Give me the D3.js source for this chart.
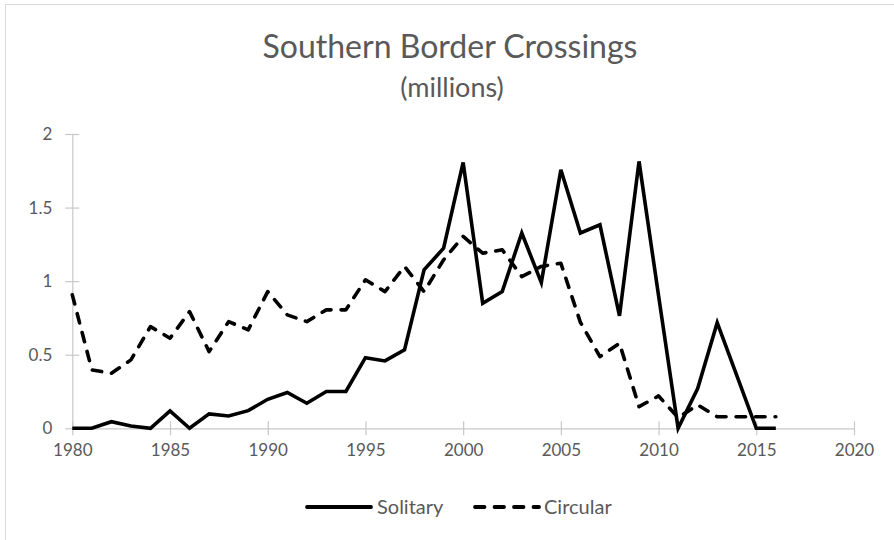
<!DOCTYPE html>
<html><head><meta charset="utf-8">
<script src="https://cdn.jsdelivr.net/npm/d3@7"></script>
<style>html,body{margin:0;padding:0;background:#fff}svg{display:block}</style>
</head><body>
<svg id="chart" width="894" height="540"></svg>
<script>
const years = d3.range(1980, 2017);
const solitary = [0, 0, 0.045, 0.015, 0, 0.118, 0, 0.098, 0.084, 0.12, 0.197, 0.243, 0.17, 0.25, 0.25, 0.48, 0.458, 0.533, 1.077, 1.224, 1.807, 0.85, 0.93, 1.327, 0.99, 1.757, 1.327, 1.383, 0.764, 1.814, 0.9, 0, 0.27, 0.718, 0.36, 0, 0];
const circular = [0.907, 0.397, 0.374, 0.465, 0.691, 0.612, 0.793, 0.521, 0.725, 0.669, 0.929, 0.771, 0.725, 0.805, 0.805, 1.009, 0.929, 1.1, 0.929, 1.145, 1.304, 1.19, 1.213, 1.031, 1.1, 1.122, 0.72, 0.487, 0.578, 0.147, 0.22, 0.072, 0.159, 0.079, 0.079, 0.079, 0.079];
const xTicks = [1980, 1985, 1990, 1995, 2000, 2005, 2010, 2015, 2020];
const yTicks = [0, 0.5, 1, 1.5, 2];
const seriesNames = ["Solitary", "Circular"];
const title = "Southern Border Crossings";
const subtitle = "(millions)";

const svg = d3.select("#chart");
const font = "Lato, 'Open Sans', sans-serif";
const textColor = "#595959";
const axisColor = "#c8c8c8";
const dash = "9.5,10";

svg.append("rect").attr("x", 5.5).attr("y", 4.5).attr("width", 900).attr("height", 545)
  .attr("fill", "#fff").attr("stroke", "#d9d9d9");

const x = d3.scaleLinear().domain([1980, 2020]).range([72.3, 854]);
const y = d3.scaleLinear().domain([0, 2]).range([428.3, 134]);

svg.append("text").attr("x", 450).attr("y", 58).attr("text-anchor", "middle")
  .attr("font-family", font).attr("font-size", 32).attr("fill", textColor).text(title);
svg.append("text").attr("x", 452).attr("y", 97).attr("text-anchor", "middle")
  .attr("font-family", font).attr("font-size", 27).attr("fill", textColor).text(subtitle);

// y axis
const yAxis = svg.append("g").attr("transform", `translate(${x(1980)},0)`)
  .call(d3.axisLeft(y).tickValues(yTicks).tickFormat(d3.format("")).tickSizeOuter(0).tickPadding(14));
yAxis.select(".domain").attr("stroke", axisColor).attr("stroke-width", 1.2);
yAxis.selectAll(".tick line").attr("x1", 7).attr("x2", -7).attr("stroke", axisColor).attr("stroke-width", 1.2);
yAxis.selectAll(".tick text").attr("font-family", font).attr("font-size", 17).attr("fill", textColor);

// x axis
const xAxis = svg.append("g").attr("transform", `translate(0,${y(0)})`)
  .call(d3.axisBottom(x).tickValues(xTicks).tickFormat(d3.format("d")).tickSizeOuter(0).tickPadding(10));
xAxis.select(".domain").attr("stroke", axisColor).attr("stroke-width", 1.2);
xAxis.selectAll(".tick line").attr("y1", -7).attr("y2", 7).attr("stroke", axisColor).attr("stroke-width", 1.2);
xAxis.selectAll(".tick text").attr("font-family", font).attr("font-size", 17).attr("fill", textColor);

const line = d3.line().x(d => x(d[0])).y(d => y(d[1]));
const solData = years.map((yr, i) => [yr, solitary[i]]);
const cirData = years.map((yr, i) => [yr, circular[i]]);

svg.append("path").datum(cirData).attr("d", line).attr("fill", "none")
  .attr("stroke", "#000").attr("stroke-width", 3.6).attr("stroke-dasharray", dash)
  .attr("stroke-linecap", "round").attr("stroke-linejoin", "round");
svg.append("path").datum(solData).attr("d", line).attr("fill", "none")
  .attr("stroke", "#000").attr("stroke-width", 3.6).attr("stroke-linejoin", "miter");

// legend
const lg = svg.append("g").attr("font-family", font).attr("font-size", 20).attr("fill", textColor);
lg.append("line").attr("x1", 307).attr("x2", 371).attr("y1", 507).attr("y2", 507)
  .attr("stroke", "#000").attr("stroke-width", 3.8).attr("stroke-linecap", "round");
lg.append("text").attr("x", 377).attr("y", 514).text(seriesNames[0]);
lg.append("line").attr("x1", 475).attr("x2", 539).attr("y1", 507).attr("y2", 507)
  .attr("stroke", "#000").attr("stroke-width", 3.8).attr("stroke-dasharray", dash).attr("stroke-linecap", "round");
lg.append("text").attr("x", 544).attr("y", 514).text(seriesNames[1]);
</script>
</body></html>
